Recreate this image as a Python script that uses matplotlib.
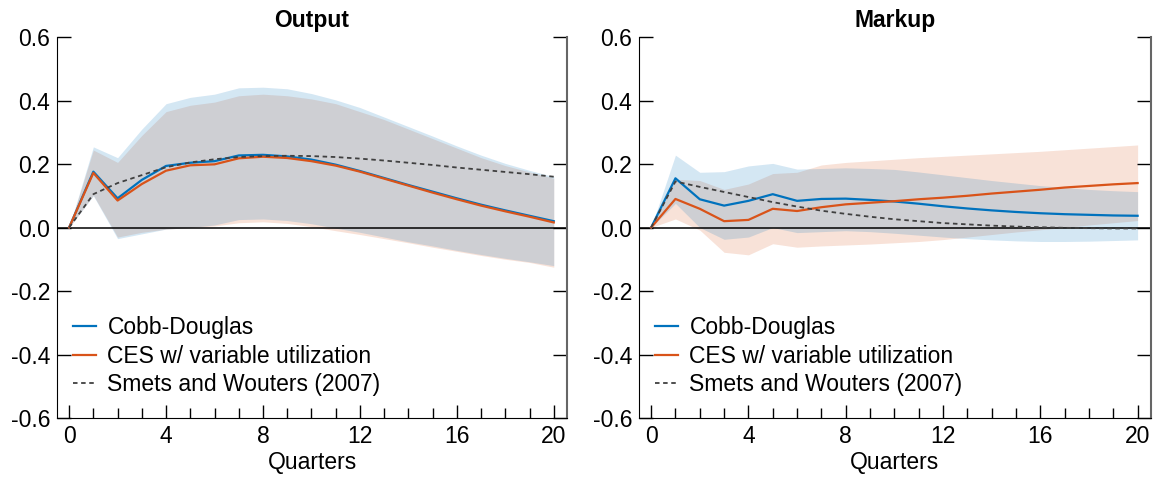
import numpy as np
import matplotlib.pyplot as plt
from matplotlib import font_manager
from matplotlib.ticker import MultipleLocator

# keep the narrow Liberation cut out of the font lookup
font_manager.fontManager.ttflist = [f for f in font_manager.fontManager.ttflist
                                    if 'Narrow' not in f.fname and 'Narrow' not in f.name]
plt.rcParams['font.family'] = ['Liberation Sans', 'DejaVu Sans']

quarters = np.arange(21)

# Output panel
out_cd = [0, 0.176, 0.092, 0.150, 0.194, 0.204, 0.209, 0.227, 0.229, 0.224, 0.214,
          0.198, 0.178, 0.156, 0.134, 0.113, 0.092, 0.072, 0.054, 0.037, 0.020]
out_ces = [0, 0.172, 0.085, 0.137, 0.179, 0.196, 0.199, 0.218, 0.223, 0.219, 0.209,
           0.195, 0.176, 0.154, 0.132, 0.110, 0.089, 0.069, 0.051, 0.034, 0.016]
out_sw = [0, 0.105, 0.140, 0.165, 0.190, 0.205, 0.215, 0.222, 0.225, 0.226, 0.225,
          0.222, 0.217, 0.211, 0.204, 0.197, 0.189, 0.182, 0.175, 0.168, 0.160]
out_cd_hi = [0, 0.254, 0.220, 0.310, 0.390, 0.410, 0.420, 0.440, 0.442, 0.437, 0.422,
             0.402, 0.378, 0.348, 0.318, 0.288, 0.257, 0.228, 0.202, 0.180, 0.160]
out_cd_lo = [0, 0.100, -0.035, -0.020, -0.005, 0.000, 0.008, 0.025, 0.027, 0.022, 0.012,
             -0.002, -0.015, -0.030, -0.045, -0.058, -0.072, -0.085, -0.097, -0.108, -0.120]
out_ces_hi = [0, 0.244, 0.205, 0.290, 0.365, 0.385, 0.395, 0.415, 0.420, 0.415, 0.405,
              0.390, 0.365, 0.340, 0.310, 0.280, 0.250, 0.220, 0.195, 0.175, 0.155]
out_ces_lo = [0, 0.102, -0.030, -0.015, -0.005, 0.000, 0.005, 0.015, 0.018, 0.013, 0.003,
              -0.010, -0.022, -0.035, -0.048, -0.062, -0.075, -0.088, -0.100, -0.110, -0.125]

# Markup panel
mk_cd = [0, 0.155, 0.089, 0.069, 0.084, 0.105, 0.084, 0.090, 0.091, 0.087, 0.082,
         0.075, 0.067, 0.060, 0.054, 0.049, 0.045, 0.042, 0.040, 0.038, 0.037]
mk_ces = [0, 0.090, 0.059, 0.020, 0.024, 0.059, 0.052, 0.064, 0.073, 0.078, 0.083,
          0.089, 0.094, 0.100, 0.107, 0.113, 0.119, 0.126, 0.131, 0.136, 0.140]
mk_sw = [0, 0.145, 0.128, 0.112, 0.096, 0.080, 0.066, 0.053, 0.043, 0.034, 0.026,
         0.020, 0.014, 0.010, 0.006, 0.003, 0.001, -0.001, -0.002, -0.003, -0.003]
mk_cd_hi = [0, 0.228, 0.174, 0.176, 0.194, 0.202, 0.184, 0.186, 0.188, 0.186, 0.183,
            0.175, 0.166, 0.157, 0.148, 0.140, 0.132, 0.126, 0.120, 0.116, 0.113]
mk_cd_lo = [0, 0.076, 0.000, -0.037, -0.030, 0.000, -0.016, -0.013, -0.010, -0.013, -0.018,
            -0.024, -0.030, -0.035, -0.039, -0.042, -0.044, -0.044, -0.043, -0.041, -0.039]
mk_ces_hi = [0, 0.152, 0.148, 0.120, 0.137, 0.170, 0.174, 0.197, 0.205, 0.210, 0.215,
             0.220, 0.224, 0.228, 0.232, 0.236, 0.240, 0.245, 0.250, 0.255, 0.260]
mk_ces_lo = [0, 0.027, -0.008, -0.078, -0.086, -0.051, -0.062, -0.058, -0.055, -0.052, -0.048,
             -0.044, -0.038, -0.030, -0.022, -0.014, -0.007, 0.000, 0.008, 0.015, 0.022]

labels = ['Cobb-Douglas', 'CES w/ variable utilization', 'Smets and Wouters (2007)']
blue = '#0072bd'
orange = '#d95319'

fig = plt.figure(figsize=(11.54, 4.79), dpi=100)
ax1 = fig.add_axes([0.0494, 0.1273, 0.4420, 0.7954])
ax2 = fig.add_axes([0.5537, 0.1273, 0.4437, 0.7954])

panels = [
    (ax1, 'Output', out_cd, out_ces, out_sw, out_cd_hi, out_cd_lo, out_ces_hi, out_ces_lo),
    (ax2, 'Markup', mk_cd, mk_ces, mk_sw, mk_cd_hi, mk_cd_lo, mk_ces_hi, mk_ces_lo),
]

for ax, title, cd, ces, sw, cd_hi, cd_lo, ces_hi, ces_lo in panels:
    ax.fill_between(quarters, ces_lo, ces_hi, color=orange, alpha=0.17, lw=0)
    ax.fill_between(quarters, cd_lo, cd_hi, color=blue, alpha=0.17, lw=0)
    ax.axhline(0, color='black', lw=1.1, zorder=2)
    ax.plot(quarters, cd, color=blue, lw=1.6, label=labels[0], zorder=3)
    ax.plot(quarters, ces, color=orange, lw=1.6, label=labels[1], zorder=3)
    ax.plot(quarters, sw, color='#404040', lw=1.3, dashes=(2.5, 2), label=labels[2], zorder=3)

    ax.set_xlim(-0.5, 20.55)
    ax.set_ylim(-0.6, 0.6)
    ax.set_yticks([-0.6, -0.4, -0.2, 0.0, 0.2, 0.4, 0.6])
    ax.set_yticklabels(['-0.6', '-0.4', '-0.2', '0.0', '0.2', '0.4', '0.6'])
    ax.xaxis.set_major_locator(MultipleLocator(4))
    ax.xaxis.set_minor_locator(MultipleLocator(1))
    ax.tick_params(axis='y', direction='in', length=10, width=1, left=True, right=True,
                   labelsize=16.5, pad=5)
    ax.tick_params(axis='x', which='major', direction='in', length=9.5, width=1,
                   labelsize=16.5, pad=5)
    ax.tick_params(axis='x', which='minor', direction='in', length=7, width=1)
    ax.spines['top'].set_visible(False)
    ax.spines['right'].set_color('#666666')
    ax.spines['right'].set_linewidth(1.5)
    ax.set_title(title, fontsize=16.5, fontweight='bold', pad=7)
    ax.set_xlabel('Quarters', fontsize=16.5, labelpad=2)
    ax.legend(loc='lower left', bbox_to_anchor=(0.0, 0.015), frameon=False, fontsize=16.5,
              handlelength=1.0, handletextpad=0.5, labelspacing=0.25, borderaxespad=0.3)

fig.savefig('out.png', dpi=100)
